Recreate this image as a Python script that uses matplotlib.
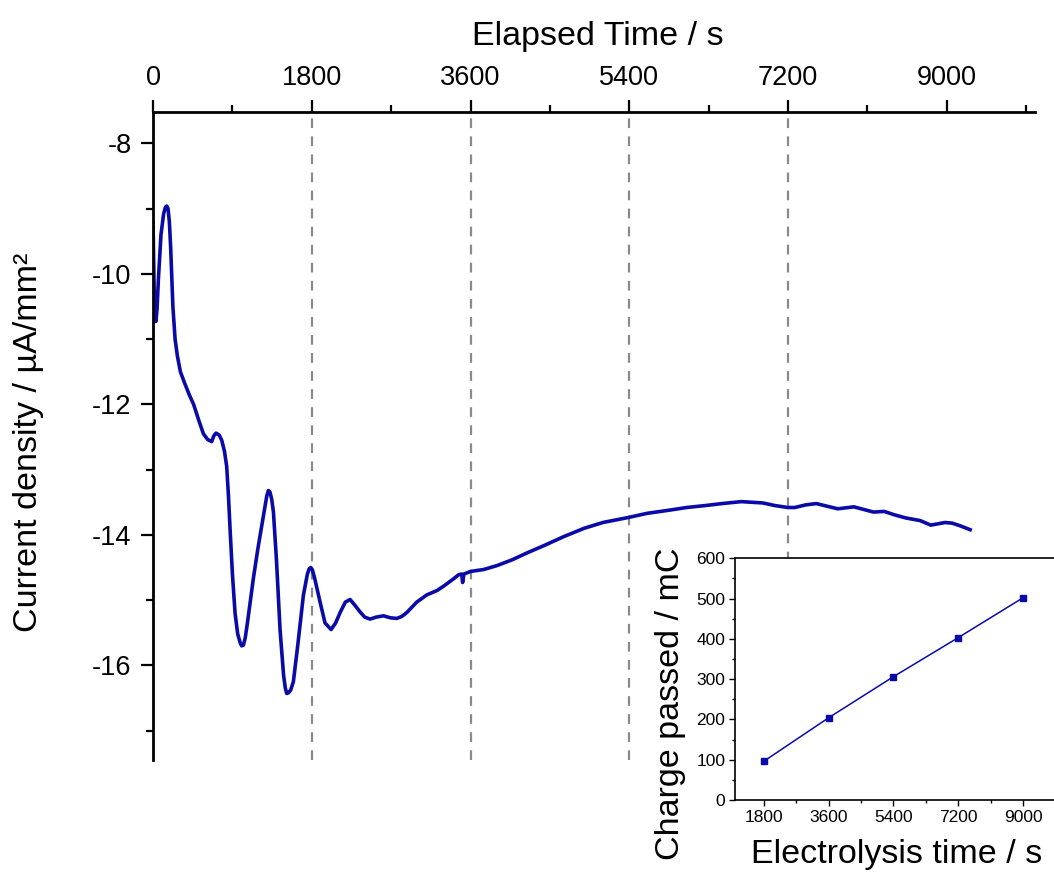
import matplotlib
matplotlib.use("Agg")
import matplotlib.pyplot as plt
from matplotlib.ticker import MultipleLocator

plt.rcParams['font.family'] = ['Liberation Sans', 'DejaVu Sans']
plt.rcParams['lines.scale_dashes'] = False
plt.rcParams['axes.unicode_minus'] = False

# --- main trace: current density vs elapsed time ---
time_s = [0, 12, 22, 32, 45, 60, 90, 120, 140, 155, 170, 185, 200, 225, 250,
          275, 310, 360, 410, 460, 520, 571, 620, 665, 690, 714, 750, 779,
          810, 835, 855, 873, 900, 930, 960, 990, 1005, 1024, 1045, 1070,
          1100, 1138, 1190, 1232, 1270, 1290, 1308, 1325, 1345, 1365, 1400,
          1440, 1480, 1500, 1516, 1535, 1560, 1591, 1640, 1705, 1750, 1770,
          1788, 1805, 1830, 1894, 1950, 2019, 2070, 2121, 2180, 2234, 2290,
          2347, 2400, 2461, 2530, 2612, 2690, 2763, 2820, 2877, 2940, 2990,
          3103, 3223, 3300, 3400, 3466, 3500, 3510, 3525, 3600, 3750, 3900,
          4074, 4250, 4439, 4650, 4885, 5100, 5400, 5600, 5858, 6050, 6263,
          6450, 6669, 6800, 6912, 7050, 7196, 7277, 7400, 7520, 7640, 7763,
          7946, 8060, 8169, 8291, 8400, 8534, 8696, 8818, 8900, 8980, 9061,
          9150, 9264]
current_density = [-9.22, -10.2, -10.65, -10.73, -10.55, -10.1, -9.4, -9.08,
                   -8.98, -8.96, -9.0, -9.2, -9.6, -10.5, -11.0, -11.25, -11.5,
                   -11.68, -11.85, -12.0, -12.25, -12.45, -12.54, -12.57,
                   -12.48, -12.44, -12.47, -12.55, -12.72, -12.95, -13.4,
                   -13.9, -14.6, -15.2, -15.52, -15.66, -15.7, -15.69, -15.58,
                   -15.35, -15.05, -14.66, -14.2, -13.86, -13.55, -13.4,
                   -13.32, -13.34, -13.45, -13.65, -14.4, -15.45, -16.15,
                   -16.35, -16.43, -16.42, -16.38, -16.25, -15.7, -14.92,
                   -14.6, -14.52, -14.5, -14.53, -14.65, -15.03, -15.35,
                   -15.45, -15.35, -15.19, -15.03, -14.99, -15.08, -15.18,
                   -15.26, -15.29, -15.26, -15.24, -15.27, -15.28, -15.25,
                   -15.19, -15.1, -15.03, -14.92, -14.85, -14.78, -14.68,
                   -14.61, -14.6, -14.73, -14.6, -14.56, -14.53, -14.47,
                   -14.38, -14.27, -14.16, -14.03, -13.90, -13.81, -13.73,
                   -13.67, -13.62, -13.58, -13.55, -13.52, -13.49, -13.5,
                   -13.51, -13.55, -13.58, -13.58, -13.54, -13.52, -13.56,
                   -13.6, -13.57, -13.61, -13.65, -13.64, -13.69, -13.74,
                   -13.78, -13.85, -13.83, -13.81, -13.82, -13.86, -13.92]

# sampling times marked with dashed lines
sample_times = [1800, 3600, 5400, 7200]

# --- inset: charge passed vs electrolysis time ---
electrolysis_time = [1800, 3600, 5400, 7200, 9000]
charge_passed = [96, 204, 306, 403, 502]

blue = '#0a0aa8'

fig = plt.figure(figsize=(10.54, 8.72), dpi=100)
ax = fig.add_axes([0.1452, 0.1284, 0.8368, 0.7431])

for t in sample_times:
    ax.axvline(t, color='#8a8a8a', lw=1.6, dashes=(7, 6), zorder=1)
ax.plot(time_s, current_density, color=blue, lw=2.6, zorder=2,
        solid_joinstyle='round')

ax.set_xlim(0, 10000)
ax.set_ylim(-17.45, -7.52)
ax.spines['bottom'].set_visible(False)
ax.spines['right'].set_visible(False)
ax.spines['top'].set_linewidth(2)
ax.spines['left'].set_linewidth(2)
ax.xaxis.tick_top()
ax.xaxis.set_major_locator(MultipleLocator(1800))
ax.xaxis.set_minor_locator(MultipleLocator(900))
ax.yaxis.set_major_locator(MultipleLocator(2))
ax.yaxis.set_minor_locator(MultipleLocator(1))
ax.tick_params(which='major', direction='out', length=8.5, width=1.6,
               labelsize=19.5, pad=7)
ax.tick_params(which='minor', direction='out', length=5, width=1.6)
ax.tick_params(axis='x', which='both', top=True, bottom=False)

ax.text(0.504, 1.1034, 'Elapsed Time / s', transform=ax.transAxes,
        ha='center', va='baseline', fontsize=24.5)
ax.text(-0.1417, 0.4907, 'Current density / µA/mm²', transform=ax.transAxes,
        rotation=90, ha='center', va='center', fontsize=24.5)

# inset axes (runs off the right edge of the figure, like the original)
ax_in = fig.add_axes([0.6973, 0.0826, 0.3074, 0.2771])
ax_in.plot(electrolysis_time, charge_passed, color=blue, lw=1.1,
           marker='s', markersize=5, markerfacecolor=blue,
           markeredgecolor=blue)
ax_in.set_xlim(1000, 10000)
ax_in.set_ylim(0, 600)
ax_in.xaxis.set_major_locator(MultipleLocator(1800))
ax_in.xaxis.set_minor_locator(MultipleLocator(900))
ax_in.yaxis.set_major_locator(MultipleLocator(100))
ax_in.yaxis.set_minor_locator(MultipleLocator(50))
ax_in.tick_params(which='major', direction='out', length=4, width=1,
                  labelsize=12.5, pad=3)
ax_in.tick_params(which='minor', direction='out', length=2, width=1)
for sp in ax_in.spines.values():
    sp.set_linewidth(1.2)

ax_in.text(0.5, -0.26, 'Electrolysis time / s', transform=ax_in.transAxes,
           ha='center', va='baseline', fontsize=24.5)
ax_in.text(-0.2, 0.40, 'Charge passed / mC', transform=ax_in.transAxes,
           rotation=90, ha='center', va='center', fontsize=24.5)

fig.savefig('out.png', dpi=100)
